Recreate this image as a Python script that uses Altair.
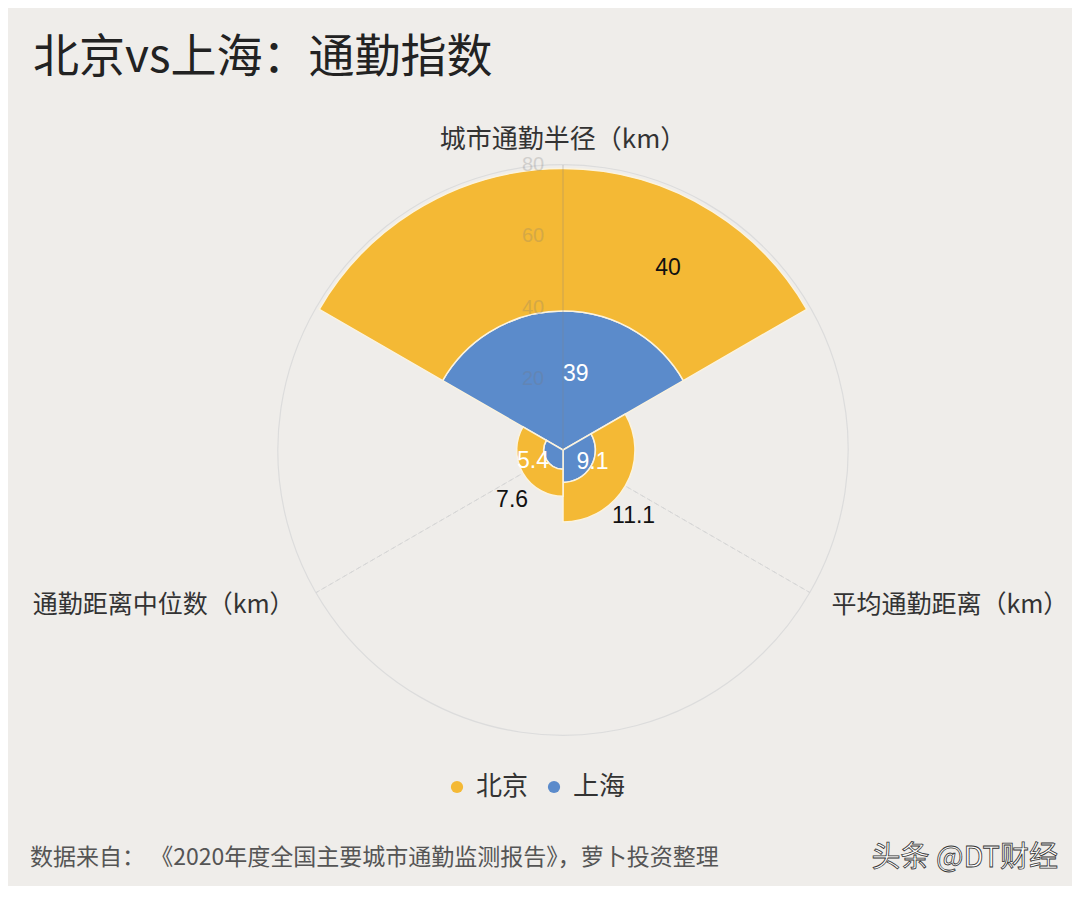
import math
import pandas as pd
import altair as alt

# data
categories = ["城市通勤半径（km）", "平均通勤距离（km）", "通勤距离中位数（km）"]
cities = ["北京", "上海"]
beijing = [40, 11.1, 7.6]
shanghai = [39, 9.1, 5.4]
radial_ticks = [20, 40, 60, 80]

title_text = "北京vs上海：通勤指数"
footer_text = "数据来自： 《2020年度全国主要城市通勤监测报告》，萝卜投资整理"
mark_text_wm = "头条 @DT财经"

YELLOW = "#f4b935"
BLUE = "#5b8bcb"
BG = "#efedea"
CJK = "Noto Sans CJK SC"

CX, CY = 555, 342  # polar centre inside the view

rows = []
for i, cat in enumerate(categories):
    rows.append({"category": cat, "idx": i, "city": "上海", "order": 0, "value": shanghai[i]})
    rows.append({"category": cat, "idx": i, "city": "北京", "order": 1, "value": beijing[i]})
df = pd.DataFrame(rows)

cat_df = pd.DataFrame({"category": categories, "idx": list(range(len(categories)))})
tick_df = pd.DataFrame({"tick": radial_ticks})

theta_scale = alt.Scale(type="linear", domain=[0, 3], range=[-math.pi / 3, 2 * math.pi - math.pi / 3])
r_scale = alt.Scale(type="linear", domain=[0, 80], range=[0, 285])

cx = alt.value(CX)
cy = alt.value(CY)

stacked = alt.Chart(df).transform_window(
    r1="sum(value)", groupby=["category"], sort=[alt.SortField("order")], frame=[None, 0]
).transform_calculate(
    r0="datum.r1 - datum.value",
    t0="datum.idx",
    t1="datum.idx + 1",
)

# outer ring
ring = alt.Chart(pd.DataFrame({"a": [0], "b": [3], "r": [80]})).mark_arc(
    fillOpacity=0, stroke="#dcdcdc", strokeWidth=1.2
).encode(
    theta=alt.Theta("a:Q", scale=theta_scale), theta2="b:Q",
    radius=alt.Radius("r:Q", scale=r_scale), x=cx, y=cy,
)

# spokes at the centre of each category
spokes = alt.Chart(cat_df).transform_calculate(
    t="datum.idx + 0.5", r="80", z="0"
).transform_filter("datum.idx > 0").mark_arc(
    fillOpacity=0, stroke="#d6d6d6", strokeWidth=1, strokeDash=[4, 4]
).encode(
    theta=alt.Theta("t:Q", scale=theta_scale), theta2="t:Q",
    radius=alt.Radius("r:Q", scale=r_scale), radius2="z:Q", x=cx, y=cy,
)

top_spoke = alt.Chart(cat_df).transform_calculate(
    t="datum.idx + 0.5", r="80", z="0"
).transform_filter("datum.idx == 0").mark_arc(
    fillOpacity=0, stroke="#888", strokeOpacity=0.2, strokeWidth=1
).encode(
    theta=alt.Theta("t:Q", scale=theta_scale), theta2="t:Q",
    radius=alt.Radius("r:Q", scale=r_scale), radius2="z:Q", x=cx, y=cy,
)

bars = stacked.mark_arc(stroke="#fbf3df", strokeWidth=1.5).encode(
    theta=alt.Theta("t0:Q", scale=theta_scale), theta2="t1:Q",
    radius=alt.Radius("r1:Q", scale=r_scale), radius2="r0:Q",
    color=alt.Color(
        "city:N",
        scale=alt.Scale(domain=cities, range=[YELLOW, BLUE]),
        legend=alt.Legend(
            title=None, orient="none", direction="horizontal",
            legendX=436, legendY=666,
            symbolType="circle", symbolSize=150, symbolStrokeWidth=0,
            labelFont=CJK, labelFontSize=26, labelColor="#333",
            labelOffset=6, columnPadding=12,
        ),
    ),
    order=alt.Order("order:Q"),
    x=cx, y=cy,
)

# radial axis tick labels along the top spoke
tick_labels = alt.Chart(tick_df).transform_calculate(t="0.5").mark_text(
    fontSize=20, font="Liberation Sans", color="#777", opacity=0.25, dx=-30
).encode(
    theta=alt.Theta("t:Q", scale=theta_scale),
    radius=alt.Radius("tick:Q", scale=r_scale),
    text="tick:Q", x=cx, y=cy,
)

def cat_label(flt, align, size):
    return alt.Chart(cat_df).transform_filter(flt).transform_calculate(
        t="datum.idx + 0.5", r="87"
    ).mark_text(
        font=CJK, fontSize=size, color="#333", align=align, baseline="middle"
    ).encode(
        theta=alt.Theta("t:Q", scale=theta_scale),
        radius=alt.Radius("r:Q", scale=r_scale),
        text="category:N", x=cx, y=cy,
    )

cat_top = cat_label("datum.idx == 0", "center", 26)
cat_right = cat_label("datum.idx == 1", "left", 25)
cat_left = cat_label("datum.idx == 2", "right", 25)

# value labels
value_labels = stacked.transform_calculate(
    lt="datum.city == '上海' ? datum.idx + 0.5 + (datum.idx == 1 ? -0.06 : 0.08)"
       " : datum.idx + 0.5 + (datum.idx == 0 ? 0.25 : (datum.idx == 1 ? 0.11 : -0.12))",
    lr="datum.city == '上海' ? max((datum.r0 + datum.r1) / 2 + 2, 9)"
       " : (datum.value > 20 ? (datum.r0 + datum.r1) / 2 : datum.r1 + 7)",
).mark_text(font="Liberation Sans", fontSize=23, baseline="middle").encode(
    theta=alt.Theta("lt:Q", scale=theta_scale),
    radius=alt.Radius("lr:Q", scale=r_scale),
    text="value:Q",
    color=alt.Color("city:N", scale=alt.Scale(domain=cities, range=["#111", "#ffffff"]), legend=None),
    x=cx, y=cy,
)

footer = alt.Chart(pd.DataFrame({"t": [footer_text]})).mark_text(
    font=CJK, fontSize=23, color="#555", align="left", baseline="middle"
).encode(text="t:N", x=alt.value(22), y=alt.value(750))

watermark = alt.Chart(pd.DataFrame({"t": [mark_text_wm]})).mark_text(
    font=CJK, fontSize=29, color="#ffffff", stroke="#333", strokeWidth=0.8,
    align="right", baseline="middle"
).encode(text="t:N", x=alt.value(1050), y=alt.value(750))

chart = alt.layer(
    ring, spokes, bars, top_spoke, tick_labels, value_labels,
    cat_top, cat_right, cat_left, footer, watermark
).resolve_scale(color="independent").properties(
    width=1064, height=778,
    autosize="none",
    padding={"top": 100, "left": 0, "right": 0, "bottom": 0},
    background=BG,
    title=alt.TitleParams(
        title_text, anchor="start", frame="group", font=CJK, fontSize=46,
        fontWeight="normal", color="#222", dx=25, offset=26,
    ),
).configure_view(strokeWidth=0)

chart.save("out.html", embed_options={"renderer": "svg", "actions": False})
